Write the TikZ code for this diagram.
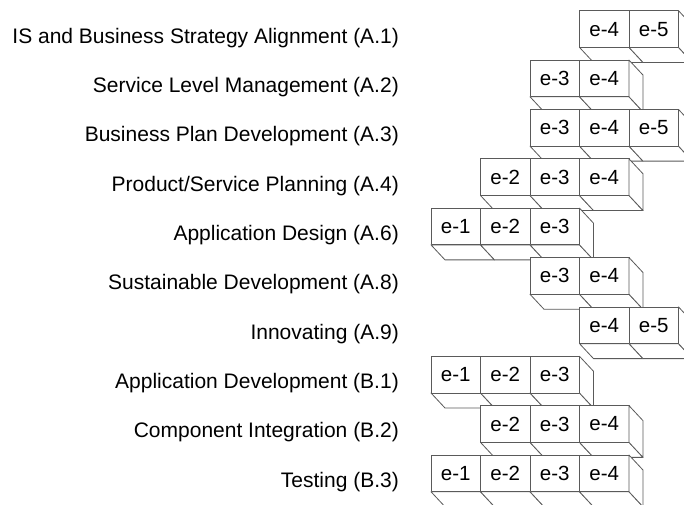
\documentclass[tikz,border=0pt]{standalone}
\usepackage{fontspec}
\setmainfont{Liberation Sans}
\definecolor{edgegray}{RGB}{90,90,90}

\begin{document}
\begin{tikzpicture}[x=1pt,y=-1pt,
    face/.style={draw=edgegray, fill=white, line width=0.8pt, line join=round},
    celltext/.style={font=\fontsize{20.5}{24}\selectfont, inner sep=0pt},
    skilltext/.style={font=\fontsize{21}{24}\selectfont, inner sep=0pt, anchor=base east}]

  \useasboundingbox (0,0) rectangle (684,504);

  % Rows: number / first level / last level / competence
  \foreach \row/\first/\last/\skill in {
      1/4/5/{IS and Business Strategy Alignment (A.1)},
      2/3/4/{Service Level Management (A.2)},
      3/3/5/{Business Plan Development (A.3)},
      4/2/4/{Product/Service Planning (A.4)},
      5/1/3/{Application Design (A.6)},
      6/3/4/{Sustainable Development (A.8)},
      7/4/5/{Innovating (A.9)},
      8/1/3/{Application Development (B.1)},
      9/2/4/{Component Integration (B.2)},
      10/1/4/{Testing (B.3)}} {
    \pgfmathsetmacro\ytop{10.7+(\row-1)*49.37}

    % Competence label
    \node[skilltext] (skill\row) at (399,\ytop+32.3) {\skill};

    % Level cubes
    \foreach \k in {\first,...,\last} {
      \pgfmathsetmacro\xl{431+(\k-1)*49.5}
      \filldraw[face] (\xl,\ytop+36.7) -- ++(14,15) -- ++(49.5,0) -- ++(-14,-15) -- cycle;
      \filldraw[face] (\xl,\ytop) rectangle ++(49.5,36.7);
      \node[celltext] (e\row-\k) at (\xl+24.75,\ytop+18.35) {e-\k};
    }

    % Right side face
    \pgfmathsetmacro\xr{431+\last*49.5}
    \filldraw[face] (\xr,\ytop) -- ++(14,15) -- ++(0,36.7) -- ++(-14,-15) -- cycle;
  }

\end{tikzpicture}
\end{document}
